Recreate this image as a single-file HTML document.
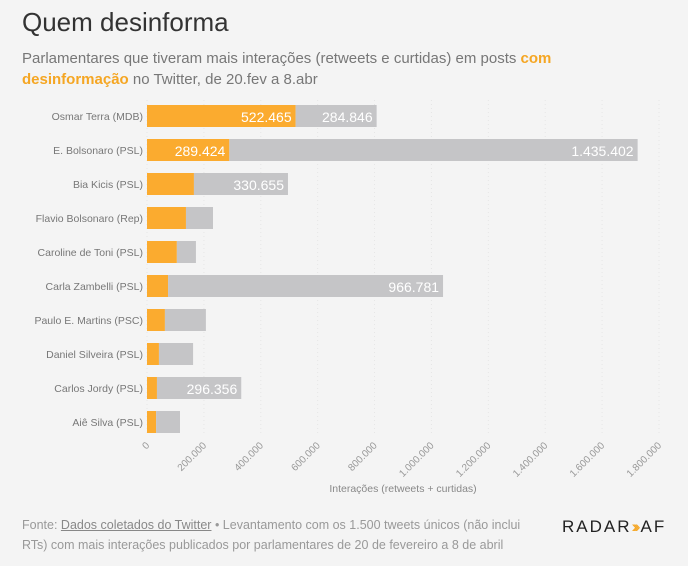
<!DOCTYPE html>
<html><head><meta charset="utf-8"><style>
body{margin:0;background:#f4f4f4;font-family:"Liberation Sans",sans-serif;}
#wrap{position:relative;width:688px;height:566px;overflow:hidden;background:#f4f4f4;}
h1{position:absolute;left:22px;top:7px;margin:0;font-weight:normal;font-size:26px;color:#333;}
.sub{position:absolute;left:22px;top:48px;width:600px;font-size:15px;line-height:21px;color:#777;}
.sub b{color:#f5a623;}
.foot{position:absolute;left:22px;top:515px;width:520px;font-size:12.5px;line-height:20px;color:#999;}
.foot u{color:#888;}
.logo{position:absolute;left:562px;top:517px;font-size:17px;letter-spacing:2px;color:#222;white-space:nowrap;}
.logo span{color:#f5a623;letter-spacing:-4px;margin-right:4px;}
</style></head><body>
<div id="wrap">
<h1>Quem desinforma</h1>
<div class="sub">Parlamentares que tiveram mais interações (retweets e curtidas) em posts <b>com desinformação</b> no Twitter, de 20.fev a 8.abr</div>
<svg id="chart" width="688" height="566" style="position:absolute;left:0;top:0"></svg>
<div class="foot">Fonte: <u>Dados coletados do Twitter</u> • Levantamento com os 1.500 tweets únicos (não inclui RTs) com mais interações publicados por parlamentares de 20 de fevereiro a 8 de abril</div>
<div class="logo">RADAR<span>›››</span>AF</div>
</div>
<script>
const categories=["Osmar Terra (MDB)","E. Bolsonaro (PSL)","Bia Kicis (PSL)","Flavio Bolsonaro (Rep)","Caroline de Toni (PSL)","Carla Zambelli (PSL)","Paulo E. Martins (PSC)","Daniel Silveira (PSL)","Carlos Jordy (PSL)","Aiê Silva (PSL)"];
const desinfo=[522465,289424,165000,137000,105000,74000,63000,42000,35000,32000];
const outros=[284846,1435402,330655,95000,67000,966781,144000,120000,296356,84000];
const orangeLabels=["522.465","289.424","","","","","","","",""];
const greyLabels=["284.846","1.435.402","330.655","","","966.781","","","296.356",""];
const ticks=[0,200000,400000,600000,800000,1000000,1200000,1400000,1600000,1800000];
const NS="http://www.w3.org/2000/svg";
const svg=document.getElementById('chart');
const x0=147,x1=659,maxV=1800000;
const x=v=>x0+(v/maxV)*(x1-x0);
const y=i=>116+i*34;
const bh=22;
function mk(t,a){const e=document.createElementNS(NS,t);for(const k in a)e.setAttribute(k,a[k]);svg.appendChild(e);return e;}
const fmt=v=>v.toLocaleString('de-DE');
ticks.forEach(t=>{
  const g=mk('line',{x1:x(t),x2:x(t),y1:100,y2:436,stroke:'#e6e6e6','stroke-dasharray':'1,3'});
  
  
  const tx=mk('text',{x:x(t)+3,y:446,'font-size':10,fill:'#999','text-anchor':'end',transform:`rotate(-45 ${x(t)+3} 446)`});
  tx.textContent=fmt(t);
  
  
});
const at=mk('text',{x:403,y:492,'font-size':10.5,fill:'#888','text-anchor':'middle'});
at.textContent='Interações (retweets + curtidas)';


categories.forEach((c,i)=>{
  const cy=y(i);
  const l=mk('text',{x:x0-4,y:cy+4,'font-size':10.5,fill:'#777','text-anchor':'end'});
  l.textContent=c;
  
  
  const r1=mk('rect',{x:x(0),y:cy-bh/2,width:x(desinfo[i])-x(0),height:bh,fill:'#fbab2f'});
  
  
  const r2=mk('rect',{x:x(desinfo[i]),y:cy-bh/2,width:x(desinfo[i]+outros[i])-x(desinfo[i]),height:bh,fill:'#c5c5c7'});
  
  
  if(orangeLabels[i]){const t=mk('text',{x:x(desinfo[i])-4,y:cy+6,'font-size':14,fill:'#fff','text-anchor':'end'});t.textContent=orangeLabels[i];
  
  }
  if(greyLabels[i]){const t=mk('text',{x:x(desinfo[i]+outros[i])-4,y:cy+6,'font-size':14,fill:'#fff','text-anchor':'end'});t.textContent=greyLabels[i];
  
  }
});
</script>
</body></html>
